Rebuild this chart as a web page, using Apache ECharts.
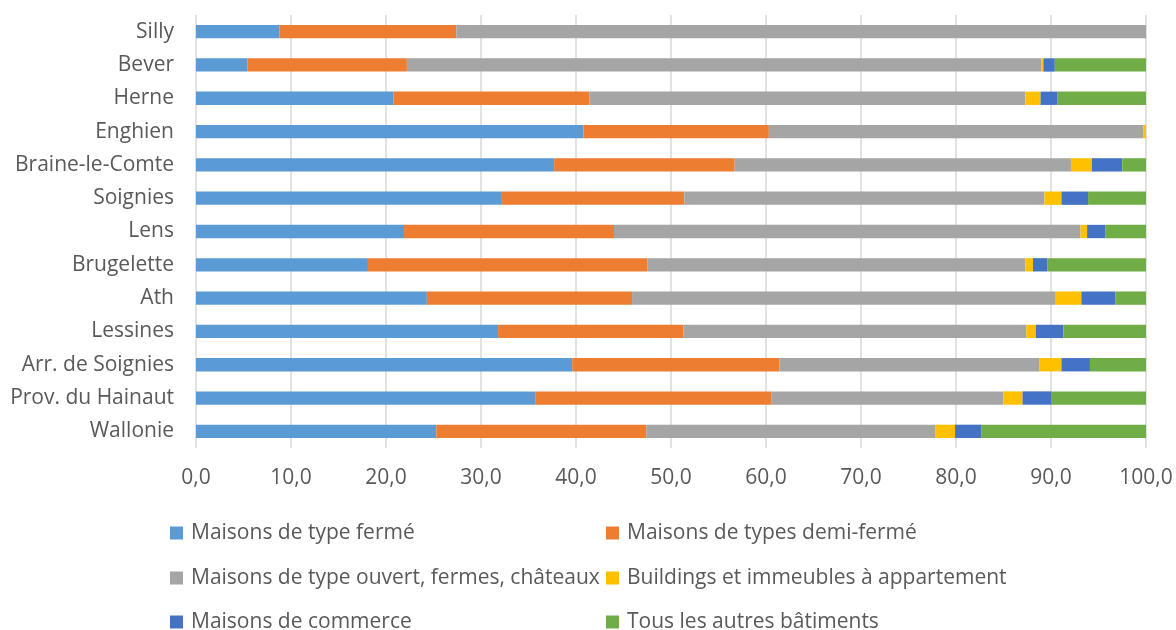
<!DOCTYPE html>
<html>
<head>
<meta charset="utf-8">
<script src="https://cdn.jsdelivr.net/npm/echarts@6/dist/echarts.min.js"></script>
<style>
html,body{margin:0;padding:0;background:#fff;}
#chart{width:1176px;height:630px;}
</style>
</head>
<body>
<div id="chart"></div>
<script>
// Categories, bottom to top
const categories = ["Wallonie","Prov. du Hainaut","Arr. de Soignies","Lessines","Ath","Brugelette","Lens","Soignies","Braine-le-Comte","Enghien","Herne","Bever","Silly"];
const seriesNames = ["Maisons de type fermé","Maisons de types demi-fermé","Maisons de type ouvert, fermes, châteaux","Buildings et immeubles à appartement","Maisons de commerce","Tous les autres bâtiments"];
const ferme     = [25.3,35.7,39.6,31.8,24.3,18.1,21.9,32.2,37.7,40.8,20.8,5.4,8.8];
const demiFerme = [22.1,24.9,21.8,19.5,21.6,29.4,22.1,19.2,19.0,19.5,20.6,16.8,18.6];
const ouvert    = [30.4,24.4,27.4,36.1,44.6,39.8,49.1,37.9,35.4,39.4,45.9,66.8,72.6];
const buildings = [2.1,2.0,2.3,1.0,2.7,0.8,0.7,1.8,2.2,0.3,1.6,0.2,0];
const commerce  = [2.8,3.0,3.0,2.9,3.6,1.5,1.9,2.8,3.2,0,1.8,1.2,0];
const autres    = [17.3,10.0,5.9,8.7,3.2,10.4,4.3,6.1,2.5,0,9.3,9.6,0];
const xTicks = [0,10,20,30,40,50,60,70,80,90,100];

const colors = ["#5B9BD5","#ED7D31","#A5A5A5","#FFC000","#4472C4","#70AD47"];
const allData = [ferme,demiFerme,ouvert,buildings,commerce,autres];
const FONT = "'Open Sans', sans-serif";
const TXT = "#595959";
const FS = 21;

const chart = echarts.init(document.getElementById('chart'), null, {renderer:'canvas'});
const series = seriesNames.map((n,i)=>({
  name:n, type:'bar', stack:'total', data:allData[i], barWidth:'40%',
  itemStyle:{color:colors[i]}, emphasis:{disabled:true}
}));
const legendPos = [[170,533],[606,533],[170,578],[606,578],[170,622],[606,622]];
const legends = seriesNames.map((n,i)=>({
  left:legendPos[i][0], top:legendPos[i][1]-FS/2, padding:0,
  icon:'rect', itemWidth:13, itemHeight:13, data:[n], selectedMode:false,
  textStyle:{fontFamily:FONT, fontSize:FS, color:TXT, lineHeight:FS, padding:[0,0,0,3]}
}));
chart.setOption({
  animation:false,
  color:colors,
  grid:{left:196, right:30, top:15, height:433, containLabel:false},
  xAxis:{
    type:'value', min:xTicks[0], max:xTicks[xTicks.length-1], interval:10,
    axisLine:{show:false}, axisTick:{show:false},
    splitLine:{show:true, lineStyle:{color:'#d9d9d9', width:1.5}},
    axisLabel:{margin:20, fontFamily:FONT, fontSize:FS, color:TXT,
      formatter:v=>v.toFixed(1).replace('.',',')}
  },
  yAxis:{
    type:'category', data:categories,
    axisLine:{show:false}, axisTick:{show:false},
    axisLabel:{margin:22, fontFamily:FONT, fontSize:FS, color:TXT}
  },
  legend:legends,
  series:series
});
</script>
</body>
</html>
